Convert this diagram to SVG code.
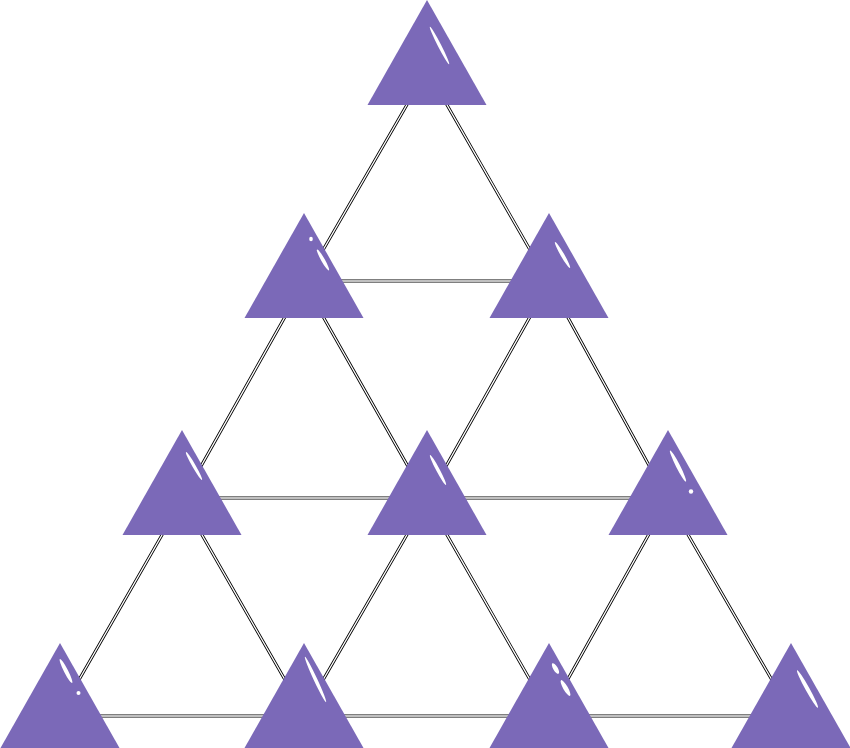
<svg xmlns="http://www.w3.org/2000/svg" xmlns:xlink="http://www.w3.org/1999/xlink" width="850" height="748" viewBox="0 0 850 748">
<style>
.tri{fill:#7b69b8}
.hl{fill:#ffffff}
.edge-out{fill:none;stroke:#000;stroke-width:3}
.edge-in{fill:none;stroke:#fff;stroke-width:1.3}
</style>
<defs>
<path id="tshape" d="M0,0 L59.5,105 L-59.5,105 Z"/>
<path id="edges" d="M427,70 L304,283 M427,70 L549,283 M304,281 L549,281
M304,283 L182,500 M304,283 L427,500 M549,283 L427,500 M549,283 L668,500
M182,498 L668,498
M182,500 L60,713 M182,500 L304,713 M427,500 L304,713 M427,500 L549,713 M668,500 L549,713 M668,500 L791,713
M60,716 L791,716"/>
</defs>
<rect width="850" height="748" fill="#fff"/>
<g id="connectors">
<use xlink:href="#edges" class="edge-out"/>
<use xlink:href="#edges" class="edge-in"/>
</g>
<g id="n1"><use xlink:href="#tshape" x="427" y="0" class="tri"/><ellipse class="hl" cx="439.5" cy="45.5" rx="21" ry="1.7" transform="rotate(62.8 439.5 45.5)"/></g>
<g id="n2"><use xlink:href="#tshape" x="304" y="213" class="tri"/><ellipse class="hl" cx="311" cy="239" rx="1.8" ry="2.2"/><ellipse class="hl" cx="323" cy="260" rx="12" ry="1.8" transform="rotate(60.5 323 260)"/></g>
<g id="n3"><use xlink:href="#tshape" x="549" y="213" class="tri"/><ellipse class="hl" cx="562.5" cy="255" rx="15" ry="1.8" transform="rotate(60 562.5 255)"/></g>
<g id="n4"><use xlink:href="#tshape" x="182" y="430" class="tri"/><ellipse class="hl" cx="194" cy="466" rx="16" ry="1.7" transform="rotate(60 194 466)"/></g>
<g id="n5"><use xlink:href="#tshape" x="427" y="430" class="tri"/><ellipse class="hl" cx="438" cy="470" rx="17" ry="1.8" transform="rotate(62 438 470)"/></g>
<g id="n6"><use xlink:href="#tshape" x="668" y="430" class="tri"/><ellipse class="hl" cx="678" cy="466" rx="17.5" ry="2" transform="rotate(63 678 466)"/><circle class="hl" cx="691" cy="491.5" r="2.2"/></g>
<g id="n7"><use xlink:href="#tshape" x="60" y="643" class="tri"/><ellipse class="hl" cx="66" cy="671" rx="13.5" ry="2" transform="rotate(63 66 671)"/><circle class="hl" cx="78.5" cy="693" r="2"/></g>
<g id="n8"><use xlink:href="#tshape" x="304" y="643" class="tri"/><ellipse class="hl" cx="315.5" cy="679.5" rx="25" ry="1.8" transform="rotate(65 315.5 679.5)"/></g>
<g id="n9"><use xlink:href="#tshape" x="549" y="643" class="tri"/><ellipse class="hl" cx="555.5" cy="668.5" rx="6" ry="2.2" transform="rotate(59 555.5 668.5)"/><ellipse class="hl" cx="565.5" cy="688" rx="9" ry="2.3" transform="rotate(60 565.5 688)"/></g>
<g id="n10"><use xlink:href="#tshape" x="791" y="643" class="tri"/><ellipse class="hl" cx="807.5" cy="689" rx="21.5" ry="2" transform="rotate(61 807.5 689)"/></g>
</svg>
